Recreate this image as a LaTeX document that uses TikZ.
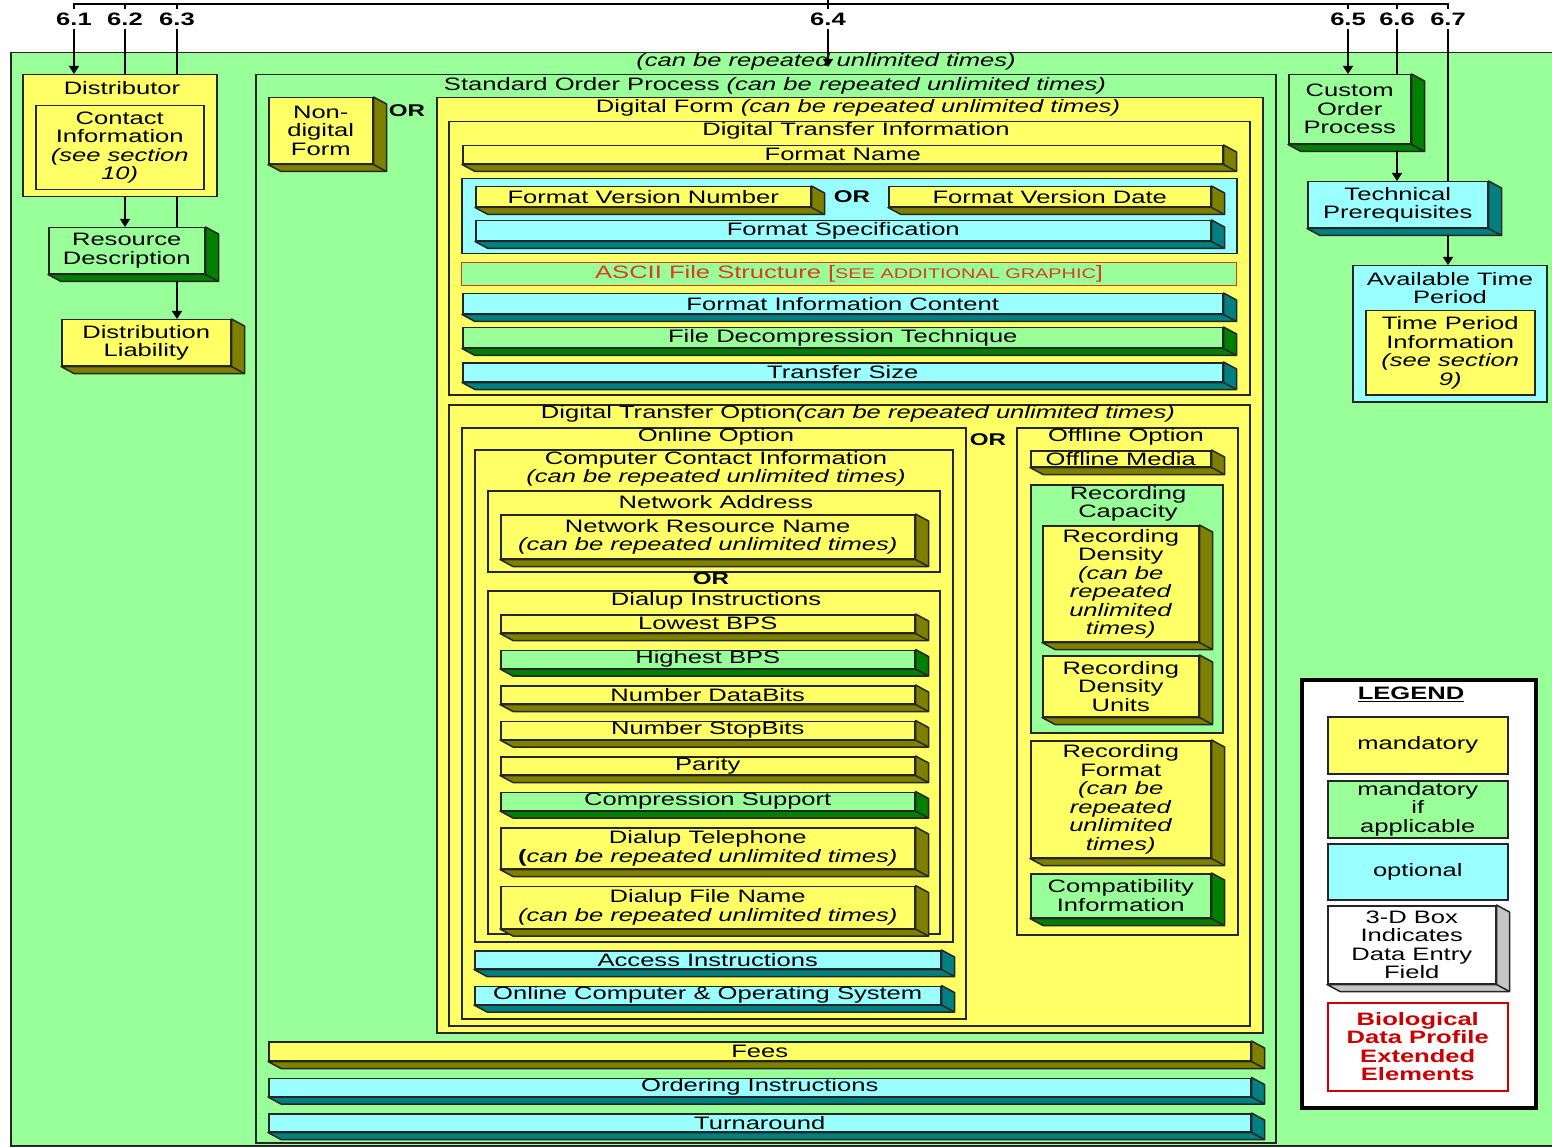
\documentclass[tikz,border=0pt]{standalone}
\usepackage{fontspec}
\setmainfont{Liberation Sans}[FakeStretch=1.42]
\usepackage{xcolor}
\usepackage{tikz}
\usetikzlibrary{arrows.meta, positioning, calc}

\definecolor{fillyellow}{HTML}{FFFF66}
\definecolor{fillgreen}{HTML}{99FF99}
\definecolor{fillcyan}{HTML}{99FFFF}
\definecolor{darkyellow}{HTML}{808000}
\definecolor{darkgreen}{HTML}{008000}
\definecolor{darkcyan}{HTML}{008080}
\definecolor{asciired}{HTML}{E03A1E}
\definecolor{biored}{HTML}{CC0000}

\newcommand{\lbl}{\fontsize{18}{18.5}\selectfont}
\newcommand{\extrude}[2]{%
  \filldraw[fill=#2, draw=black!85, line join=round] (#1.north east) -- ++(13,7)
    -- ($(#1.south east)+(13,7)$) -- ($(#1.south west)+(13,7)$) -- (#1.south west)
    -- (#1.south east) -- cycle;
  \draw[draw=black!85] (#1.south east) -- ++(13,7);
  \coordinate (#1foot) at ($(#1.south)+(0,7)$);
}

\begin{document}
\begin{tikzpicture}[
    x=1pt, y=-1pt,
    node distance=16pt,
    line width=1.5pt,
    frame/.style={draw=black!85, anchor=north west, inner sep=0pt},
    bar/.style={draw=black!85, anchor=north west, inner sep=0pt, align=center, font=\lbl},
    dims/.style 2 args={minimum width=#1pt, minimum height=#2pt},
    title/.style={inner sep=0pt, align=center, font=\lbl},
    orlabel/.style={inner sep=0pt, font=\fontsize{17}{17}\selectfont\bfseries},
    numlabel/.style={inner sep=3pt, font=\fontsize{18}{18}\selectfont\bfseries},
    arrow/.style={-{Triangle[length=8pt, width=10pt]}, line width=1.5pt},
    link/.style={line width=1.5pt}
]
\useasboundingbox (0,0) rectangle (1552,1147);

\node[frame, fill=fillgreen, dims={1560}{1093}] (outer) at (10,52) {};
\node[title, font=\lbl\itshape] (outerT) at (826,62) {(can be repeated unlimited times)};

\node[numlabel] (n61) at (74,19) {6.1};
\node[numlabel] (n62) at (125,19) {6.2};
\node[numlabel] (n63) at (177,19) {6.3};
\node[numlabel] (n64) at (828,19) {6.4};
\node[numlabel] (n65) at (1348,19) {6.5};
\node[numlabel] (n66) at (1397,19) {6.6};
\node[numlabel] (n67) at (1448,19) {6.7};

\node[frame, fill=fillyellow, dims={194}{122}] (dist) at (22,74) {};
\node[title] (distT) at (122,88) {Distributor};
\node[frame, fill=fillyellow, dims={168}{84}, align=center, font=\lbl] (contact) at (35,105) {Contact\\Information\\\textit{(see section}\\\textit{10)}};
\node[bar, fill=fillgreen, dims={156}{46}] (resdesc) at (48,227) {Resource\\Description};
\extrude{resdesc}{darkgreen}
\node[bar, fill=fillyellow, dims={169}{46}] (liab) at (61,319) {Distribution\\Liability};
\extrude{liab}{darkyellow}

\node[frame, fill=fillgreen, dims={1020}{1068}] (sop) at (255,74) {};
\node[title] (sopT) at (775,86) {Standard Order Process \textit{(can be repeated unlimited times)}};
\node[bar, fill=fillyellow, dims={104}{66}] (nondig) at (268,97) {Non-\\digital\\Form};
\extrude{nondig}{darkyellow}
\node[orlabel] (or1) at (407,111) {OR};
\node[frame, fill=fillyellow, dims={826}{935}] (dform) at (436,97) {};
\node[title] (dformT) at (858,108) {Digital Form \textit{(can be repeated unlimited times)}};

\node[frame, fill=fillyellow, dims={801}{273}] (dti) at (448,121) {};
\node[title] (dtiT) at (856,131) {Digital Transfer Information};
\node[bar, fill=fillyellow, dims={760}{18}] (fname) at (462,145) {Format Name};
\extrude{fname}{darkyellow}
\node[frame, fill=fillcyan, dims={775}{75}] (verbox) at (461,178) {};
\node[bar, fill=fillyellow, dims={335}{20}] (fvnum) at (475,186) {Format Version Number};
\extrude{fvnum}{darkyellow}
\node[orlabel] (or2) at (852,197) {OR};
\node[bar, fill=fillyellow, dims={322}{20}] (fvdate) at (888,186) {Format Version Date};
\extrude{fvdate}{darkyellow}
\node[bar, fill=fillcyan, dims={735}{20}] (fspec) at (475,220) {Format Specification};
\extrude{fspec}{darkcyan}
\node[frame, fill=fillgreen, draw=asciired, line width=1.2pt, dims={775}{23}, text=asciired, font=\lbl] (ascii) at (461,262) {ASCII File Structure [{\fontsize{14}{14}\selectfont SEE ADDITIONAL GRAPHIC}]};
\node[bar, fill=fillcyan, dims={760}{20}] (fic) at (462,293) {Format Information Content};
\extrude{fic}{darkcyan}
\node[bar, fill=fillgreen, dims={760}{20}] (fdt) at (462,327) {File Decompression Technique};
\extrude{fdt}{darkgreen}
\node[bar, fill=fillcyan, dims={760}{19}] (tsize) at (462,362) {Transfer Size};
\extrude{tsize}{darkcyan}

\node[frame, fill=fillyellow, dims={801}{621}] (dto) at (448,404) {};
\node[title] (dtoT) at (858,414) {Digital Transfer Option\textit{(can be repeated unlimited times)}};
\node[frame, fill=fillyellow, dims={504}{591}] (online) at (461,427) {};
\node[title] (onlineT) at (716,437) {Online Option};
\node[orlabel] (or3) at (988,440) {OR};
\node[frame, fill=fillyellow, dims={221}{507}] (offline) at (1016,427) {};
\node[title] (offlineT) at (1126,437) {Offline Option};
\node[bar, fill=fillyellow, dims={180}{16}] (media) at (1030,450) {Offline Media};
\extrude{media}{darkyellow}
\node[frame, fill=fillgreen, dims={192}{248}] (reccap) at (1030,484) {};
\node[title] (reccapT) at (1128,504) {Recording\\Capacity};
\node[bar, fill=fillyellow, dims={156}{116}] (recdens) at (1042,525) {Recording\\Density\\\textit{(can be}\\\textit{repeated}\\\textit{unlimited}\\\textit{times)}};
\extrude{recdens}{darkyellow}
\node[bar, fill=fillyellow, dims={156}{61}] (recunits) at (1042,655) {Recording\\Density\\Units};
\extrude{recunits}{darkyellow}
\node[bar, fill=fillyellow, dims={180}{117}] (recfmt) at (1030,740) {Recording\\Format\\\textit{(can be}\\\textit{repeated}\\\textit{unlimited}\\\textit{times)}};
\extrude{recfmt}{darkyellow}
\node[bar, fill=fillgreen, dims={180}{44}] (compat) at (1030,873) {Compatibility\\Information};
\extrude{compat}{darkgreen}

\node[frame, fill=fillyellow, dims={478}{492}] (cci) at (474,449) {};
\node[title] (cciT) at (716,469) {Computer Contact Information\\\textit{(can be repeated unlimited times)}};
\node[frame, fill=fillyellow, dims={452}{81}] (netaddr) at (487,490) {};
\node[title] (netaddrT) at (716,502) {Network Address};
\node[bar, fill=fillyellow, dims={414}{44}] (netres) at (500,514) {Network Resource Name\\\textit{(can be repeated unlimited times)}};
\extrude{netres}{darkyellow}
\node[orlabel] (or4) at (711,579) {OR};
\node[frame, fill=fillyellow, dims={452}{343}] (dialup) at (487,590) {};
\node[title] (dialupT) at (716,601) {Dialup Instructions};
\node[bar, fill=fillyellow, dims={414}{18}] (lowbps) at (500,614) {Lowest BPS};
\extrude{lowbps}{darkyellow}
\node[bar, fill=fillgreen, dims={414}{18}, below=of lowbps] (highbps) {Highest BPS};
\extrude{highbps}{darkgreen}
\node[bar, fill=fillyellow, dims={414}{18}, below=of highbps] (databits) {Number DataBits};
\extrude{databits}{darkyellow}
\node[bar, fill=fillyellow, dims={414}{18}, below=of databits] (stopbits) {Number StopBits};
\extrude{stopbits}{darkyellow}
\node[bar, fill=fillyellow, dims={414}{18}, below=of stopbits] (parity) {Parity};
\extrude{parity}{darkyellow}
\node[bar, fill=fillgreen, dims={414}{18}, below=of parity] (compsup) {Compression Support};
\extrude{compsup}{darkgreen}
\node[bar, fill=fillyellow, dims={414}{41}, below=of compsup] (dtel) {Dialup Telephone\\{\bfseries(}\textit{can be repeated unlimited times)}};
\extrude{dtel}{darkyellow}
\node[bar, fill=fillyellow, dims={414}{42}, below=of dtel] (dfile) {Dialup File Name\\\textit{(can be repeated unlimited times)}};
\extrude{dfile}{darkyellow}
\node[bar, fill=fillcyan, dims={466}{18}] (access) at (474,950) {Access Instructions};
\extrude{access}{darkcyan}
\node[bar, fill=fillcyan, dims={466}{18}, below=of access] (oncomp) {Online Computer \& Operating System};
\extrude{oncomp}{darkcyan}

\node[bar, fill=fillyellow, dims={982}{19}] (fees) at (268,1041) {Fees};
\extrude{fees}{darkyellow}
\node[bar, fill=fillcyan, dims={982}{18}, below=of fees] (ordinst) {Ordering Instructions};
\extrude{ordinst}{darkcyan}
\node[bar, fill=fillcyan, dims={982}{18}, below=of ordinst] (turn) {Turnaround};
\extrude{turn}{darkcyan}

\node[bar, fill=fillgreen, dims={122}{69}] (custom) at (1288,74) {Custom\\Order\\Process};
\extrude{custom}{darkgreen}
\node[bar, fill=fillcyan, dims={180}{46}] (techpre) at (1307,181) {Technical\\Prerequisites};
\extrude{techpre}{darkcyan}
\node[frame, fill=fillcyan, dims={194}{136}] (avail) at (1352,265) {};
\node[title] (availT) at (1450,288) {Available Time\\Period};
\node[frame, fill=fillyellow, dims={169}{84}, align=center, font=\lbl] (timeinfo) at (1365,310) {Time Period\\Information\\\textit{(see section}\\\textit{9)}};

\node[frame, fill=white, draw=black, line width=3.5pt, dims={234}{428}] (legend) at (1300,678) {};
\node[title, font=\fontsize{18}{18}\selectfont\bfseries] (legendT) at (1411,694) {\underline{LEGEND}};
\node[bar, fill=fillyellow, dims={180}{57}] (lmand) at (1327,716) {mandatory};
\node[bar, fill=fillgreen, dims={180}{57}] (lmandif) at (1327,780) {mandatory\\if\\applicable};
\node[bar, fill=fillcyan, dims={180}{56}] (lopt) at (1327,843) {optional};
\node[bar, fill=white, dims={168}{78}] (lbox) at (1327,905) {3-D Box\\Indicates\\Data Entry\\Field};
\extrude{lbox}{gray!45}
\node[bar, fill=white, draw=biored, dims={180}{88}, font=\lbl\bfseries, text=biored] (lbio) at (1327,1002) {Biological\\Data Profile\\Extended\\Elements};

\draw[link] (n61.north) -- ++(0,-5) -| (n67.north);
\draw[link] (n62.north) -- ++(0,-5);
\draw[link] (n63.north) -- ++(0,-5);
\draw[link] (n64.north) -- (n64.north |- 0,0);
\draw[link] (n65.north) -- ++(0,-5);
\draw[link] (n66.north) -- ++(0,-5);

\coordinate (rep) at (828,67);
\draw[arrow] (n61) -- (n61 |- dist.north);
\draw[link] (n62) -- (n62 |- dist.north);
\draw[arrow] (dist.south -| n62) -- (resdesc.north -| n62);
\draw[link] (n63) -- (n63 |- dist.north);
\draw[link] (dist.south -| n63) -- (resdesc.north -| n63);
\draw[arrow] (resdescfoot -| n63) -- (liab.north -| n63);
\draw[arrow] (n64) -- (rep);
\draw[arrow] (n65) -- (n65 |- custom.north);
\draw[link] (n66) -- (n66 |- custom.north);
\draw[arrow] (customfoot -| n66) -- (techpre.north -| n66);
\draw[link] (n67) -- (n67 |- techpre.north);
\draw[arrow] (techprefoot -| n67) -- (avail.north -| n67);

\end{tikzpicture}
\end{document}
